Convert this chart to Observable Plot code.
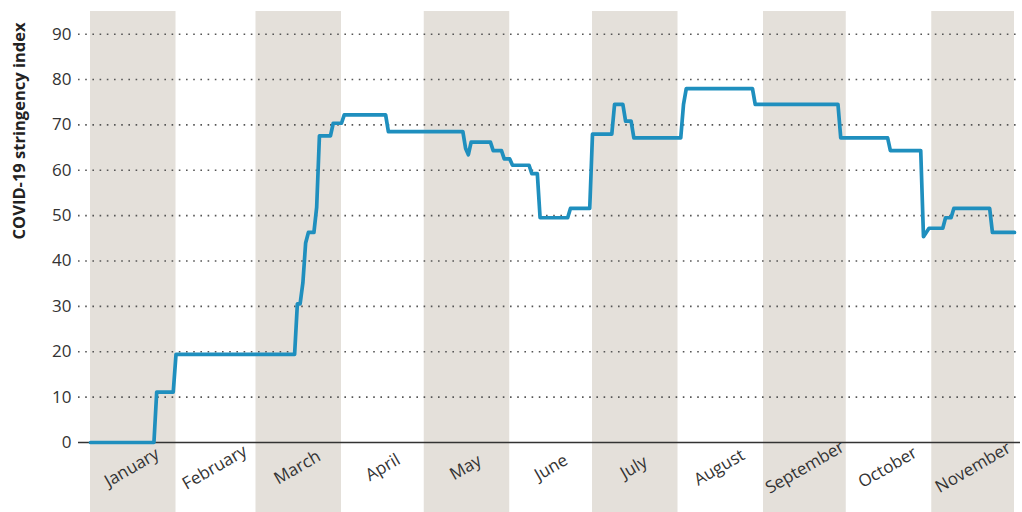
<!DOCTYPE html>
<html>
<head>
<meta charset="utf-8">
<script src="https://cdn.jsdelivr.net/npm/d3@7"></script>
<script src="https://cdn.jsdelivr.net/npm/@observablehq/plot@0.6"></script>
<style>
  html, body { margin: 0; padding: 0; background: #fff; }
  #chart { width: 1022px; height: 512px; }
</style>
</head>
<body>
<div id="chart"></div>
<script>
// Stringency index (corner points of the step series)
const dates = [
  "2020-01-01","2020-01-24","2020-01-25","2020-01-31","2020-02-01","2020-03-15",
  "2020-03-16","2020-03-17","2020-03-18","2020-03-19","2020-03-20","2020-03-22",
  "2020-03-23","2020-03-24","2020-03-28","2020-03-29","2020-04-01","2020-04-02",
  "2020-04-17","2020-04-18","2020-05-15","2020-05-16","2020-05-17","2020-05-18",
  "2020-05-25","2020-05-26","2020-05-29","2020-05-30","2020-06-01","2020-06-02",
  "2020-06-08","2020-06-09","2020-06-11","2020-06-12","2020-06-22","2020-06-23",
  "2020-06-30","2020-07-01","2020-07-08","2020-07-09","2020-07-12","2020-07-13",
  "2020-07-15","2020-07-16","2020-08-02","2020-08-03","2020-08-04","2020-08-28",
  "2020-08-29","2020-09-28","2020-09-29","2020-10-16","2020-10-17","2020-10-28",
  "2020-10-29","2020-10-31","2020-11-05","2020-11-06","2020-11-08","2020-11-09",
  "2020-11-22","2020-11-23","2020-12-01"
];
const values = [
  0, 0, 11.11, 11.11, 19.44, 19.44,
  30.56, 30.56, 35.19, 43.98, 46.3, 46.3,
  51.85, 67.59, 67.59, 70.37, 70.37, 72.22,
  72.22, 68.52, 68.52, 64.81, 63.43, 66.2,
  66.2, 64.35, 64.35, 62.5, 62.5, 61.11,
  61.11, 59.26, 59.26, 49.54, 49.54, 51.59,
  51.59, 67.96, 67.96, 74.54, 74.54, 70.83,
  70.83, 67.13, 67.13, 74.54, 78.0, 78.0,
  74.54, 74.54, 67.13, 67.13, 64.35, 64.35,
  45.37, 47.22, 47.22, 49.54, 49.54, 51.59,
  51.59, 46.3, 46.3
];

// Shaded months
const bandStarts = ["2020-01-01","2020-03-01","2020-05-01","2020-07-01","2020-09-01","2020-11-01"];
const bandEnds   = ["2020-02-01","2020-04-01","2020-06-01","2020-08-01","2020-10-01","2020-12-01"];

// Month labels (placed at mid-month)
const monthNames = ["January","February","March","April","May","June","July","August","September","October","November"];
const monthMids = ["2020-01-16","2020-02-15","2020-03-16","2020-04-16","2020-05-16","2020-06-16",
                   "2020-07-16","2020-08-16","2020-09-16","2020-10-16","2020-11-16"];

const yTicks = [0, 10, 20, 30, 40, 50, 60, 70, 80, 90];
const yLabel = "COVID-19 stringency index";

const series = dates.map((d, i) => ({date: new Date(d), value: values[i]}));
const bands = bandStarts.map((d, i) => ({start: new Date(d), end: new Date(bandEnds[i])}));
const mids = monthMids.map(d => new Date(d));

const chart = Plot.plot({
  width: 1022,
  height: 512,
  marginTop: 11,
  marginBottom: 70,
  marginLeft: 90,
  marginRight: 8,
  style: {fontFamily: "'Open Sans', sans-serif", fontSize: "16px", color: "#333", background: "#fff"},
  x: {type: "utc", domain: [new Date("2020-01-01"), new Date("2020-12-01")]},
  y: {domain: [0, 95]},
  marks: [
    Plot.rect(bands, {x1: "start", x2: "end", fill: "#e4e0da", insetBottom: -70}),
    Plot.ruleY(yTicks.filter(d => d > 0), {stroke: "#555", strokeWidth: 1.6, strokeDasharray: "1.6 5.6", insetLeft: -12, insetRight: -6}),
    Plot.ruleY([0], {stroke: "#333", strokeWidth: 1.5, insetLeft: -12, insetRight: -6}),
    Plot.axisY({ticks: yTicks, tickSize: 0, tickPadding: 19, fontSize: 17, fill: "#333", label: null}),
    Plot.axisX({ticks: mids, tickFormat: d => monthNames[d.getUTCMonth()], tickSize: 0, tickRotate: -30,
                textAnchor: "middle", lineAnchor: "middle", tickPadding: 25, fontSize: 17, fill: "#333", label: null}),
    Plot.text([yLabel], {text: d => d, frameAnchor: "top-left", rotate: -90, textAnchor: "end", lineAnchor: "middle",
                         dx: -71, dy: 11, fontWeight: "bold", fontSize: 16.5, fill: "#222"}),
    Plot.line(series, {x: "date", y: "value", stroke: "#1f8fbe", strokeWidth: 3.7})
  ]
});
document.getElementById("chart").appendChild(chart);
</script>
</body>
</html>
